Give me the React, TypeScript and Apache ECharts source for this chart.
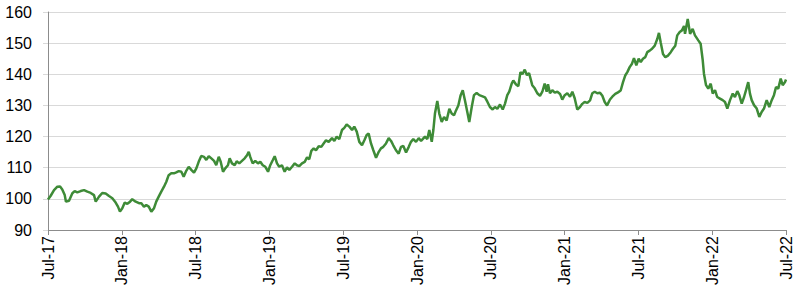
import React, { useEffect, useRef } from "react";
import * as echarts from "echarts";

// x positions in months since Jul-2017
const months: number[] = [
  0, 0.22, 0.49, 0.76, 0.98, 1.16, 1.36, 1.46, 1.71, 1.98, 2.17, 2.38, 2.66, 2.93, 3.2, 3.47, 3.74, 3.88, 4.15, 4.41,
  4.69, 4.96, 5.23, 5.5, 5.69, 5.85, 6.04, 6.24, 6.45, 6.67, 6.85, 7.13, 7.4, 7.59, 7.8, 7.99, 8.19, 8.4, 8.62, 8.8,
  9.0, 9.21, 9.43, 9.62, 9.81, 10.02, 10.24, 10.43, 10.63, 10.84, 11.03, 11.24, 11.44, 11.65, 11.87, 12.06, 12.25, 12.46, 12.68, 12.87,
  13.07, 13.28, 13.5, 13.68, 13.88, 14.04, 14.23, 14.41, 14.63, 14.77, 14.96, 15.18, 15.34, 15.55, 15.77, 15.99, 16.18, 16.32, 16.45, 16.64,
  16.85, 17.07, 17.26, 17.46, 17.67, 17.89, 18.07, 18.27, 18.43, 18.62, 18.8, 19.02, 19.24, 19.43, 19.62, 19.84, 20.06, 20.24, 20.43, 20.65,
  20.87, 21.06, 21.24, 21.41, 21.6, 21.79, 22.01, 22.22, 22.41, 22.6, 22.82, 23.09, 23.28, 23.47, 23.68, 23.9, 24.09, 24.28, 24.5, 24.72,
  24.9, 25.1, 25.31, 25.53, 25.72, 25.91, 26.07, 26.26, 26.45, 26.67, 26.89, 27.07, 27.26, 27.48, 27.7, 27.89, 28.07, 28.29, 28.51, 28.7,
  28.89, 29.11, 29.33, 29.51, 29.7, 29.92, 30.14, 30.33, 30.65, 30.84, 31.0, 31.2, 31.33, 31.46, 31.65, 31.81, 32.01, 32.2, 32.41, 32.63,
  32.82, 33.01, 33.17, 33.36, 33.55, 33.72, 33.9, 34.09, 34.25, 34.45, 34.63, 34.85, 35.07, 35.28, 35.53, 35.72, 35.93, 36.15, 36.34, 36.53,
  36.75, 36.97, 37.15, 37.34, 37.5, 37.7, 37.83, 38.05, 38.24, 38.41, 38.57, 38.76, 38.94, 39.11, 39.37, 39.57, 39.78, 40.0, 40.19, 40.38,
  40.54, 40.65, 40.81, 41.0, 41.2, 41.41, 41.63, 41.81, 42.01, 42.22, 42.44, 42.63, 42.82, 43.03, 43.25, 43.44, 43.63, 43.85, 44.07, 44.25,
  44.45, 44.66, 44.88, 45.07, 45.26, 45.45, 45.69, 45.88, 46.12, 46.34, 46.56, 46.75, 46.94, 47.1, 47.29, 47.48, 47.64, 47.83, 48.02, 48.19,
  48.37, 48.56, 48.72, 48.92, 49.11, 49.33, 49.54, 49.67, 49.81, 50.0, 50.19, 50.41, 50.63, 50.81, 51.0, 51.16, 51.36, 51.54, 51.71, 51.79,
  52.01, 52.2, 52.41, 52.6, 52.87, 53.06, 53.23, 53.33, 53.5, 53.68, 53.88, 54.04, 54.23, 54.41, 54.63, 54.85, 55.04, 55.23, 55.45, 55.67,
  55.85, 56.04, 56.2, 56.4, 56.59, 56.75, 56.93, 57.07, 57.21, 57.4, 57.62, 57.83, 58.02, 58.21, 58.43, 58.64, 58.84, 59.02, 59.19, 59.37,
  59.57, 59.73, 59.92, 60.0,
];

const values: number[] = [
  99.8, 101, 102.8, 103.9, 104, 103, 101.2, 99.1, 99.4, 101.8, 102.5, 102.1, 102.5, 102.8, 102.3, 101.9, 101.2, 99.1, 100.7, 101.9,
  101.7, 100.9, 100.2, 98.8, 97.5, 95.9, 97, 98.8, 98.4, 99.1, 99.9, 99.1, 98.6, 98.6, 97.5, 98, 97.5, 95.9, 97, 99.1,
  100.7, 102.3, 103.9, 105.5, 107.6, 108.2, 108.2, 108.5, 108.9, 108.7, 107.1, 109, 110.3, 109.3, 108.4, 109.8, 111.9, 113.8, 113.5, 112.5,
  113.7, 113, 112.2, 110.8, 113.5, 111.9, 108.7, 109.8, 110.8, 113, 111.4, 110.8, 112.1, 111.4, 112.2, 113, 114, 115.1, 113.4, 111.4,
  112.2, 111.4, 111.9, 110.8, 110.3, 108.7, 110.8, 112.4, 113.7, 111.4, 110.3, 110.8, 108.7, 110.1, 109.3, 110.3, 111.4, 110.8, 110.5, 111.4,
  111.9, 113.3, 112.7, 115.4, 116.2, 115.6, 116.9, 116.7, 117.8, 118.8, 118.3, 119.5, 118.6, 120, 119.2, 122.1, 122.8, 123.9, 123.2, 122.1,
  123.2, 121.6, 118.3, 117.2, 118.8, 120.5, 121, 117.8, 115.6, 113.2, 115.1, 116.2, 116.7, 117.8, 119.5, 118.6, 117.2, 115.6, 114.5, 116.7,
  117, 114.9, 116.7, 118.3, 119.2, 118.3, 119.5, 118.6, 120, 119.2, 122.1, 118.3, 122.1, 127.4, 131.4, 127.4, 124.7, 126.3, 125.2, 128.9,
  127.4, 126.8, 128.4, 130, 133.3, 134.9, 131.6, 127.9, 124.7, 129.5, 133.3, 134, 133.3, 133, 132.6, 131.2, 129.5, 128.7, 129.5, 128.9,
  130.3, 128.7, 130.5, 133.3, 134.4, 137, 138, 136.7, 136.2, 140.7, 140, 141.5, 139.7, 140.4, 136.5, 135.5, 133.9, 133.1, 134.4, 137,
  134.4, 136.8, 133.9, 134.9, 134.1, 134.4, 133.7, 131.9, 133.3, 133.9, 132.8, 134.4, 132.3, 128.7, 129.5, 130.5, 131.1, 130.8, 131.6, 133.9,
  134.4, 133.9, 134.1, 133.1, 131.1, 130, 131.9, 132.8, 133.7, 134.2, 134.8, 137.5, 139.7, 140.7, 142.3, 143.4, 145.2, 142.9, 145, 143.9,
  145, 145.5, 147.1, 147.6, 148.2, 149.2, 151.4, 153.3, 150.3, 146.5, 145.5, 146, 147.1, 148.2, 149.2, 152.5, 153.6, 154.1, 155.5, 153,
  157.8, 153, 154.6, 152.5, 150.9, 149.8, 144.5, 140.2, 136.5, 135.4, 137, 133.8, 134.9, 132.7, 132.2, 131.7, 131.1, 129, 131.7, 133.8,
  132.7, 134.6, 133.3, 130.6, 132.7, 134.9, 137.5, 133.8, 131.7, 130.1, 129, 126.3, 127.9, 129, 131.7, 129.5, 131.7, 133.3, 135.9, 135.4,
  138.6, 136.5, 137.5, 138.3,
];

const xTickLabels: string[] = [
  "Jul-17", "Jan-18", "Jul-18", "Jan-19", "Jul-19", "Jan-20",
  "Jul-20", "Jan-21", "Jul-21", "Jan-22", "Jul-22",
];

export default function App() {
  const ref = useRef<HTMLDivElement>(null);
  useEffect(() => {
    if (!ref.current) return;
    const chart = echarts.init(ref.current, null, { renderer: "svg" });
    const data = months.map((m, i) => [m, values[i]]);
    chart.setOption({
      animation: false,
      backgroundColor: "#ffffff",
      grid: { left: 48, right: 14, top: 12, bottom: 59, containLabel: false },
      xAxis: {
        type: "value",
        min: 0,
        max: 60,
        interval: 6,
        axisLine: { show: true, lineStyle: { color: "#8c8c8c", width: 1 } },
        axisTick: { show: true, length: 5, lineStyle: { color: "#8c8c8c" } },
        splitLine: { show: false },
        axisLabel: {
          rotate: 90,
          margin: 6,
          fontSize: 16,
          color: "#000",
          fontFamily: "Liberation Sans, Arial, sans-serif",
          formatter: (v: number) => xTickLabels[Math.round(v / 6)] ?? "",
        },
      },
      yAxis: {
        type: "value",
        min: 90,
        max: 160,
        interval: 10,
        axisLine: { show: true, lineStyle: { color: "#8c8c8c", width: 1 } },
        axisTick: { show: true, length: 5, lineStyle: { color: "#d9d9d9" } },
        splitLine: { show: true, lineStyle: { color: "#d9d9d9", width: 1 } },
        axisLabel: {
          margin: 16,
          fontSize: 16,
          color: "#000",
          fontFamily: "Liberation Sans, Arial, sans-serif",
        },
      },
      series: [
        {
          type: "line",
          data,
          showSymbol: false,
          symbol: "none",
          lineStyle: { color: "#3e8b37", width: 2.5 },
        },
      ],
    });
    return () => chart.dispose();
  }, []);
  return (
    <div
      ref={ref}
      style={{ position: "fixed", left: 0, top: 0, width: 800, height: 289, background: "#fff" }}
    />
  );
}
